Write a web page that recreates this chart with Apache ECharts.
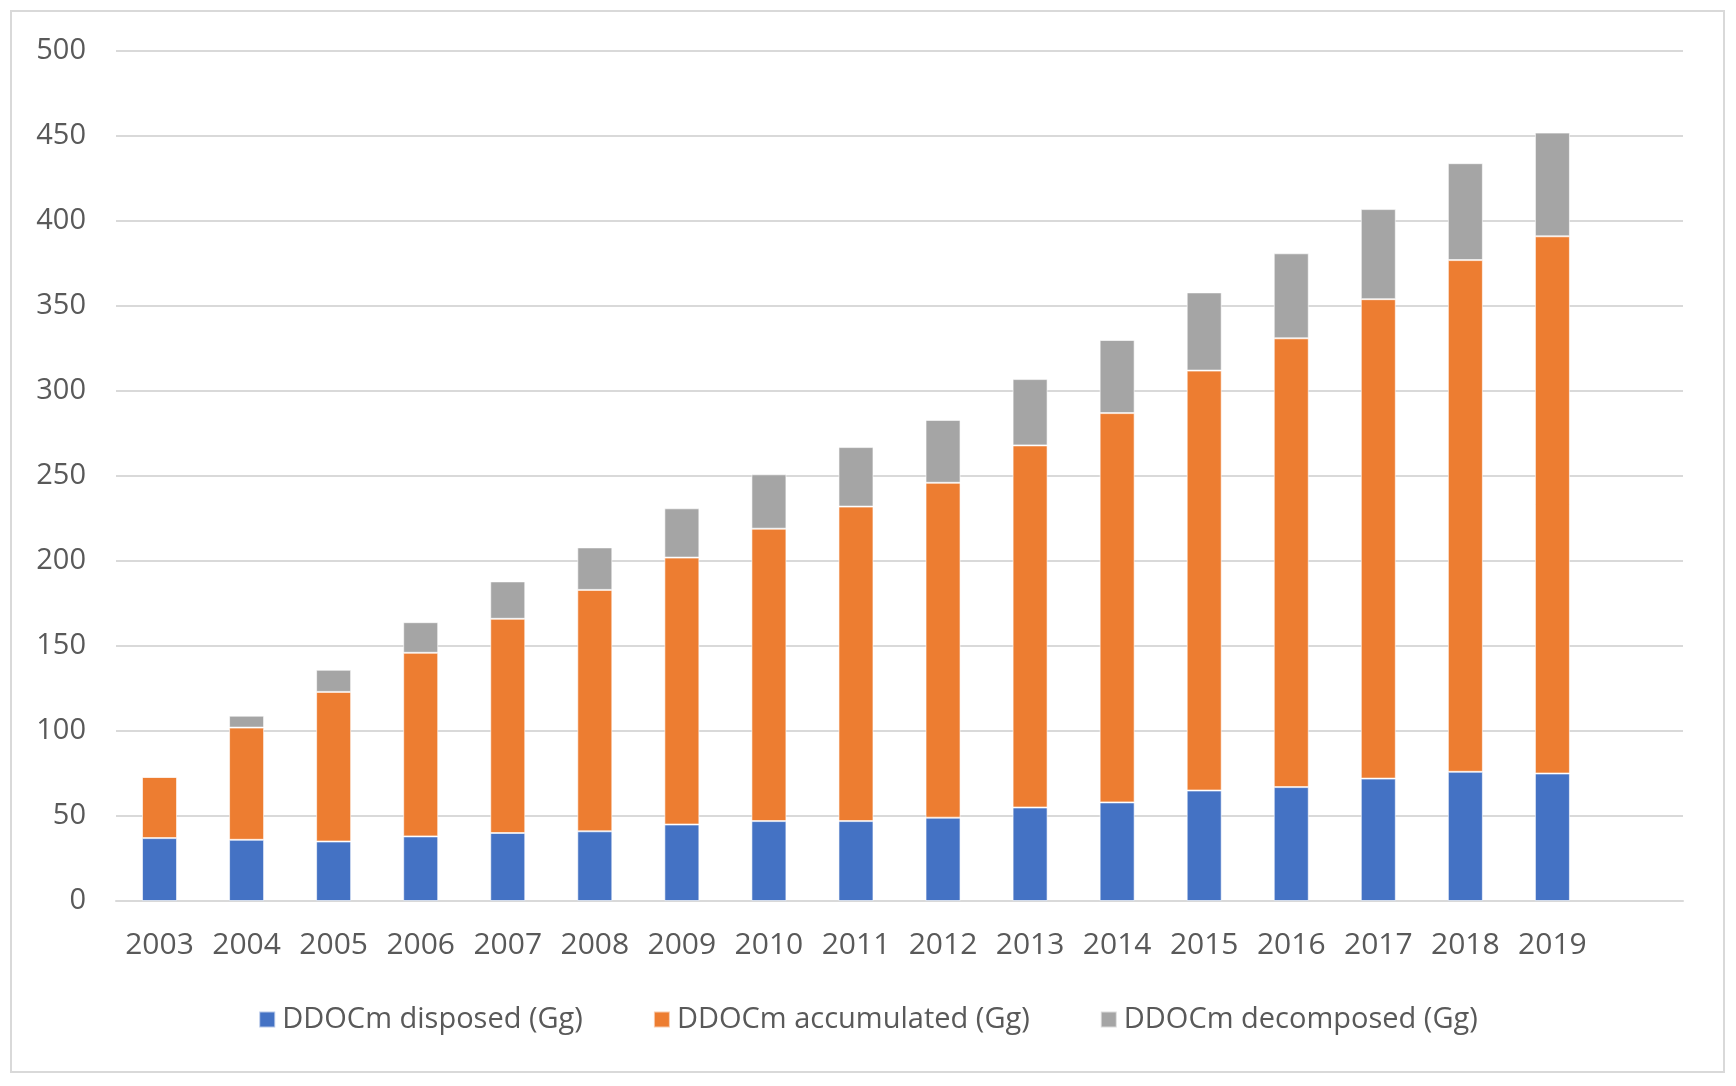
<!DOCTYPE html>
<html>
<head>
<meta charset="utf-8">
<script src="https://cdn.jsdelivr.net/npm/echarts@6/dist/echarts.min.js"></script>
<style>
html,body{margin:0;padding:0;background:#fff;}
#chart{width:1736px;height:1086px;}
</style>
</head>
<body>
<div id="chart"></div>
<script>
const categories = ['2003','2004','2005','2006','2007','2008','2009','2010','2011','2012','2013','2014','2015','2016','2017','2018','2019',''];
const disposed = [37,36,35,38,40,41,45,47,47,49,55,58,65,67,72,76,75];
const accumulated = [36,66,88,108,126,142,157,172,185,197,213,229,247,264,282,301,316];
const decomposed = [0,7,13,18,22,25,29,32,35,37,39,43,46,50,53,57,61];
const seriesNames = ['DDOCm disposed (Gg)','DDOCm accumulated (Gg)','DDOCm decomposed (Gg)'];
const colors = ['#4472C4','#ED7D31','#A5A5A5'];

const font = 'Open Sans';
const textColor = '#595959';
const chart = echarts.init(document.getElementById('chart'));
const mk = (name, data, color) => ({
  name: name, type: 'bar', stack: 'total', data: data, barWidth: 35,
  itemStyle: {color: color, borderColor: 'rgba(255,255,255,0.6)', borderWidth: 1},
  emphasis: {disabled: true}
});
chart.setOption({
  animation: false,
  backgroundColor: '#fff',
  graphic: [{
    type: 'rect', shape: {x: 11, y: 11, width: 1713, height: 1061},
    style: {fill: 'none', stroke: '#d9d9d9', lineWidth: 2}, silent: true
  }],
  grid: {left: 116, right: 53, top: 51, bottom: 185},
  legend: {
    bottom: 47, left: 'center', itemWidth: 16, itemHeight: 16, itemGap: 70,
    icon: 'rect',
    textStyle: {fontFamily: font, fontSize: 29, color: textColor, padding: [0,0,0,2]},
    data: seriesNames
  },
  xAxis: {
    type: 'category', data: categories,
    axisLine: {lineStyle: {color: '#d9d9d9', width: 2}},
    axisTick: {show: false},
    axisLabel: {fontFamily: font, fontSize: 30, color: textColor, margin: 29, interval: 0}
  },
  yAxis: {
    type: 'value', min: 0, max: 500, interval: 50,
    axisLine: {show: false}, axisTick: {show: false},
    splitLine: {lineStyle: {color: '#d9d9d9', width: 2}},
    axisLabel: {fontFamily: font, fontSize: 29, color: textColor, margin: 30}
  },
  series: [
    mk(seriesNames[0], disposed, colors[0]),
    mk(seriesNames[1], accumulated, colors[1]),
    mk(seriesNames[2], decomposed, colors[2])
  ]
});
</script>
</body>
</html>
